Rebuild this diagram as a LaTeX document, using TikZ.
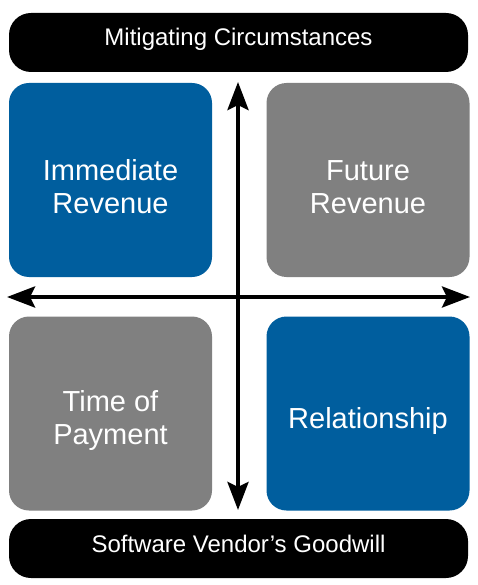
\documentclass[tikz,border=0pt]{standalone}
\usepackage{fontspec}
\setmainfont{Liberation Sans}
\usetikzlibrary{arrows.meta}
\definecolor{qblue}{RGB}{0,94,158}
\definecolor{qgray}{RGB}{128,128,128}
\begin{document}
\begin{tikzpicture}[x=1pt,y=-1pt,
  bar/.style={fill=black, rounded corners=22pt, minimum width=459pt, minimum height=59pt, inner sep=0pt},
  quad/.style={rounded corners=20pt, minimum width=203pt, minimum height=194pt, inner sep=0pt},
  bartext/.style={text=white, font=\fontsize{24}{28}\selectfont, text height=17pt, text depth=5pt, inner sep=0pt},
  quadtext/.style={text=white, font=\fontsize{29}{33}\selectfont, align=center, inner sep=0pt},
  axisline/.style={line width=4pt, {Stealth[length=28pt,width=21pt,inset=5pt]}-{Stealth[length=28pt,width=21pt,inset=5pt]}}]
\useasboundingbox (0,0) rectangle (478,585);
% bars
\node[bar] (topbar) at (238.5,42.5) {};
\node[bartext] (toptext) at (238.5,40) {Mitigating Circumstances};
\node[bar] (botbar) at (238.5,548.5) {};
\node[bartext] (bottext) at (238.5,546) {Software Vendor’s Goodwill};
% quadrants
\node[quad, fill=qblue] (ir) at (110.5,180) {};
\node[quad, fill=qgray] (fr) at (368,180) {};
\node[quad, fill=qgray] (tp) at (110.5,413.5) {};
\node[quad, fill=qblue] (rl) at (368,413.5) {};
\node[quadtext, yshift=-7pt] (irt) at (ir.center) {Immediate\\Revenue};
\node[quadtext, yshift=-7pt] (frt) at (fr.center) {Future\\Revenue};
\node[quadtext, yshift=-7pt] (tpt) at (tp.center) {Time of\\Payment};
\node[quadtext, yshift=-7pt] (rlt) at (rl.center) {Relationship};
% axes
\coordinate (vtop) at (238,82);
\coordinate (vbot) at (238,510);
\coordinate (hleft) at (7,297);
\coordinate (hright) at (470,297);
\draw[axisline] (vtop) -- (vbot);
\draw[axisline] (hleft) -- (hright);
\end{tikzpicture}
\end{document}
